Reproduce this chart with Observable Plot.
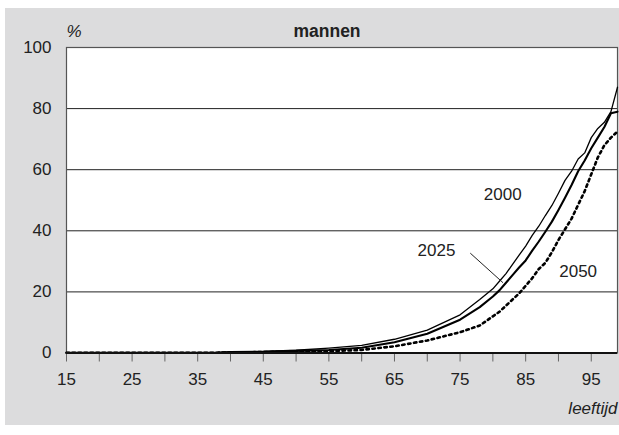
<!DOCTYPE html>
<html>
<head>
<meta charset="utf-8">
<script src="https://cdn.jsdelivr.net/npm/d3@7"></script>
<script src="https://cdn.jsdelivr.net/npm/@observablehq/plot@0.6"></script>
<style>
  html, body { margin: 0; padding: 0; background: #ffffff; }
  #wrap { position: relative; width: 619px; height: 435px; overflow: hidden; }
  #bg { position: absolute; left: 5px; top: 8px; width: 614px; height: 417px; background: #dcdcdd; }
  #chart { position: absolute; left: 0; top: 0; }
</style>
</head>
<body>
<div id="wrap"><div id="bg"></div><div id="chart"></div></div>
<script>
const ages = [15,20,25,30,35,38,40,45,50,55,60,65,70,75,78,80,81,82,83,84,85,86,87,88,89,90,91,92,93,94,95,96,97,98,99];
const y2000 = [0.1,0.1,0.1,0.1,0.1,0.2,0.4,0.5,0.9,1.6,2.5,4.5,7.5,12.5,17.5,21,23.5,26,29,32,35,38.5,41.5,45,48.3,52.3,56.5,59.5,63.5,65.5,70.5,73.5,75.5,79,87];
const y2025 = [0.1,0.1,0.1,0.1,0.1,0.1,0.3,0.4,0.7,1.0,1.7,3.5,6.3,10.9,15,18.5,20.5,23,25.5,28,30.3,33.5,36.5,39.7,43,46.8,50.8,55,59.5,63,67,70.5,74,78.5,79];
const y2050 = [0.1,0.1,0.1,0.1,0.1,0.1,0.2,0.3,0.5,0.6,1.0,2.2,4.1,6.8,9,12,13.5,15.5,17.5,19.5,22,24.5,27.5,29.5,33,37,40.5,44,48.5,53,58.5,64,68,70.5,72.5];

const xTicks = [15,20,25,30,35,40,45,50,55,60,65,70,75,80,85,90,95];
const xLabelTicks = [15,25,35,45,55,65,75,85,95];
const yTicks = [0,20,40,60,80,100];
const gridLines = [20,40,60,80];

const seriesNames = ["2000","2025","2050"];
const labelAge = [81.5, 71.4, 93.0];
const labelVal = [51.9, 33.6, 26.7];
const leaderAge = [76.6, 81.5];
const leaderVal = [32.6, 23.1];

const d2000 = ages.map((a,i) => ({age:a, v:y2000[i]}));
const d2025 = ages.map((a,i) => ({age:a, v:y2025[i]}));
const d2050 = ages.map((a,i) => ({age:a, v:y2050[i]}));
const labels = seriesNames.map((s,i) => ({s, age: labelAge[i], v: labelVal[i]}));
const leader = leaderAge.map((a,i) => ({age:a, v: leaderVal[i]}));

const font = "'Liberation Sans', Arial, Helvetica, sans-serif";

const chart = Plot.plot({
  width: 619,
  height: 435,
  marginLeft: 66,
  marginRight: 2,
  marginTop: 47,
  marginBottom: 82.5,
  style: { background: "transparent", fontFamily: font, fontSize: "17px", color: "#222" },
  x: { domain: [15, 99] },
  y: { domain: [0, 100] },
  marks: [
    Plot.frame({ fill: "white", stroke: "none" }),
    Plot.ruleY(gridLines, { stroke: "#222", strokeWidth: 1 }),
    Plot.frame({ stroke: "#555", strokeWidth: 1.2 }),
    Plot.axisY({ ticks: yTicks, tickSize: 0, tickPadding: 15, label: null, fontSize: 17, fill: "#222" }),
    Plot.axisX({ ticks: xTicks, tickSize: 9, tickPadding: 11, label: null, stroke: "#666",
      tickFormat: d => xLabelTicks.includes(d) ? String(d) : "", fontSize: 17, fill: "#222" }),
    Plot.line(d2050, { x: "age", y: "v", stroke: "black", strokeWidth: 2.6, strokeDasharray: "2.5,3.5", curve: "linear" }),
    Plot.line(d2025, { x: "age", y: "v", stroke: "black", strokeWidth: 2.1, curve: "linear" }),
    Plot.line(d2000, { x: "age", y: "v", stroke: "black", strokeWidth: 1.3, curve: "linear" }),
    Plot.ruleY([0], { stroke: "#111", strokeWidth: 2 }),
    Plot.line(leader, { x: "age", y: "v", stroke: "#222", strokeWidth: 1 }),
    Plot.text(labels, { x: "age", y: "v", text: "s", fontSize: 17, fill: "#222", textAnchor: "middle" }),
    Plot.text(["%"], { frameAnchor: "top-left", lineAnchor: "middle", dy: -16, dx: 0, textAnchor: "start", fontSize: 17, fontStyle: "italic", fill: "#222" }),
    Plot.text(["mannen"], { frameAnchor: "top", lineAnchor: "middle", dx: -15, dy: -16, fontSize: 17.5, fontWeight: "bold", fill: "#222" }),
    Plot.text(["leeftijd"], { frameAnchor: "bottom-right", lineAnchor: "middle", dy: 56, textAnchor: "end", fontSize: 17, fontStyle: "italic", fill: "#222" })
  ]
});
document.getElementById("chart").appendChild(chart);
</script>
</body>
</html>
